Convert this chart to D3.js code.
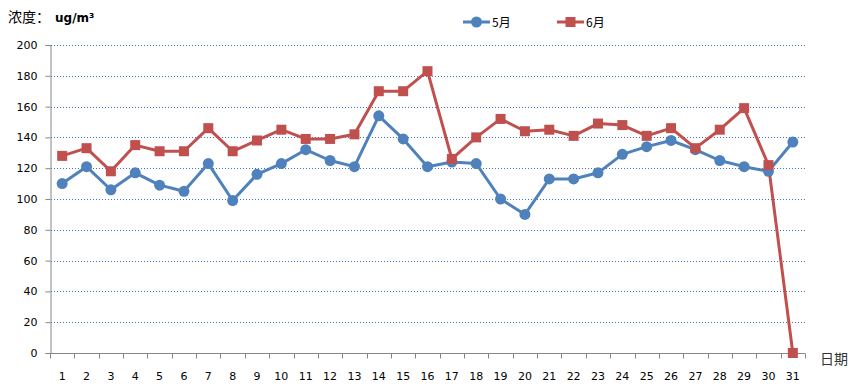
<!DOCTYPE html>
<html>
<head>
<meta charset="utf-8">
<script src="https://cdn.jsdelivr.net/npm/d3@7"></script>
<style>
  body { margin: 0; background: #fff; }
  svg { display: block; }
</style>
</head>
<body>
<div id="chart"></div>
<script>
// chart data
var days = d3.range(1, 32).map(String);
var may = [110, 121, 106, 117, 109, 105, 123, 99, 116, 123, 132, 125, 121, 154, 139, 121,
           124, 123, 100, 90, 113, 113, 117, 129, 134, 138, 132, 125, 121, 118, 137];
var june = [128, 133, 118, 135, 131, 131, 146, 131, 138, 145, 139, 139, 142, 170, 170, 183,
            126, 140, 152, 144, 145, 141, 149, 148, 141, 146, 133, 145, 159, 122, 0];
var yTicks = [0, 20, 40, 60, 80, 100, 120, 140, 160, 180, 200];
var seriesNames = ["5月", "6月"];

var width = 862, height = 388;
var margin = { left: 50, right: 57, top: 45, bottom: 35 };

var svg = d3.select("#chart").append("svg")
    .attr("width", width)
    .attr("height", height);

var x = d3.scaleBand()
    .domain(days)
    .range([margin.left, width - margin.right]);

var y = d3.scaleLinear()
    .domain([0, 200])
    .range([height - margin.bottom, margin.top]);

var axisColor = "#868686";
var numFont = "DejaVu Sans, Verdana, sans-serif";
var cjkFont = "'Noto Sans CJK SC', sans-serif";

// grid lines
svg.append("g")
    .selectAll("line")
    .data(yTicks.filter(function (d) { return d > 0; }))
    .enter().append("line")
    .attr("x1", margin.left + 1)
    .attr("x2", width - margin.right)
    .attr("y1", function (d) { return Math.round(y(d)) + 0.5; })
    .attr("y2", function (d) { return Math.round(y(d)) + 0.5; })
    .attr("stroke", "#3d74b8")
    .attr("stroke-width", 1)
    .attr("stroke-dasharray", "1,2");

// y axis
var yAxis = svg.append("g")
    .attr("transform", "translate(" + (margin.left + 0.5) + ",0)")
    .call(d3.axisLeft(y).tickValues(yTicks).tickSize(5).tickPadding(8));
yAxis.select(".domain").attr("stroke", axisColor);
yAxis.selectAll(".tick line").attr("stroke", axisColor);
yAxis.selectAll("text")
    .attr("font-family", numFont)
    .attr("font-size", 11)
    .attr("fill", "#000");

// x axis (ticks between categories)
var xAxisG = svg.append("g")
    .attr("transform", "translate(0," + (Math.round(y(0)) + 0.5) + ")");
xAxisG.append("line")
    .attr("x1", margin.left)
    .attr("x2", width - margin.right)
    .attr("stroke", axisColor);
xAxisG.selectAll(".tk")
    .data(days.concat(["end"]))
    .enter().append("line")
    .attr("class", "tk")
    .attr("x1", function (d, i) { return Math.round(margin.left + i * x.bandwidth()) + 0.5; })
    .attr("x2", function (d, i) { return Math.round(margin.left + i * x.bandwidth()) + 0.5; })
    .attr("y1", 0)
    .attr("y2", 5)
    .attr("stroke", axisColor);
xAxisG.selectAll(".lbl")
    .data(days)
    .enter().append("text")
    .attr("class", "lbl")
    .attr("x", function (d) { return x(d) + x.bandwidth() / 2; })
    .attr("y", 26)
    .attr("text-anchor", "middle")
    .attr("font-family", numFont)
    .attr("font-size", 11)
    .attr("fill", "#000")
    .text(function (d) { return d; });

svg.append("text")
    .attr("x", 820)
    .attr("y", 364)
    .attr("font-family", cjkFont)
    .attr("font-size", 14)
    .attr("fill", "#333")
    .text("日期");

// title
var title = svg.append("text")
    .attr("x", 8)
    .attr("y", 22)
    .attr("font-family", cjkFont)
    .attr("font-size", 14)
    .attr("fill", "#000");
title.append("tspan").text("浓度：");
title.append("tspan").attr("dx", 5).attr("font-weight", "bold").attr("font-family", "DejaVu Sans, sans-serif")
    .attr("font-size", 12).text("ug/m³");

// lines
var line = d3.line()
    .x(function (d, i) { return x(days[i]) + x.bandwidth() / 2; })
    .y(function (d) { return y(d); });

var blue = "#4f81bd", red = "#c0504d";

svg.append("path")
    .datum(may)
    .attr("fill", "none")
    .attr("stroke", blue)
    .attr("stroke-width", 3)
    .attr("stroke-linejoin", "round")
    .attr("d", line);

svg.append("path")
    .datum(june)
    .attr("fill", "none")
    .attr("stroke", red)
    .attr("stroke-width", 3)
    .attr("stroke-linejoin", "round")
    .attr("d", line);

svg.append("g").selectAll("circle")
    .data(may)
    .enter().append("circle")
    .attr("cx", function (d, i) { return x(days[i]) + x.bandwidth() / 2; })
    .attr("cy", function (d) { return y(d); })
    .attr("r", 5.5)
    .attr("fill", blue);

svg.append("g").selectAll("rect")
    .data(june)
    .enter().append("rect")
    .attr("x", function (d, i) { return x(days[i]) + x.bandwidth() / 2 - 5; })
    .attr("y", function (d) { return y(d) - 5; })
    .attr("width", 10)
    .attr("height", 10)
    .attr("fill", red);

// legend
var legend = svg.append("g");
var legendItems = [
    { name: seriesNames[0], color: blue, shape: "circle", x: 463 },
    { name: seriesNames[1], color: red, shape: "rect", x: 557 }
];
legendItems.forEach(function (it) {
    legend.append("line")
        .attr("x1", it.x).attr("x2", it.x + 27)
        .attr("y1", 22).attr("y2", 22)
        .attr("stroke", it.color).attr("stroke-width", 3);
    if (it.shape === "circle") {
        legend.append("circle").attr("cx", it.x + 13.5).attr("cy", 22).attr("r", 5.5).attr("fill", it.color);
    } else {
        legend.append("rect").attr("x", it.x + 8.5).attr("y", 17).attr("width", 10).attr("height", 10).attr("fill", it.color);
    }
    legend.append("text")
        .attr("x", it.x + 29)
        .attr("y", 27)
        .attr("font-family", cjkFont)
        .attr("font-size", 12)
        .attr("fill", "#000")
        .text(it.name);
});
</script>
</body>
</html>
